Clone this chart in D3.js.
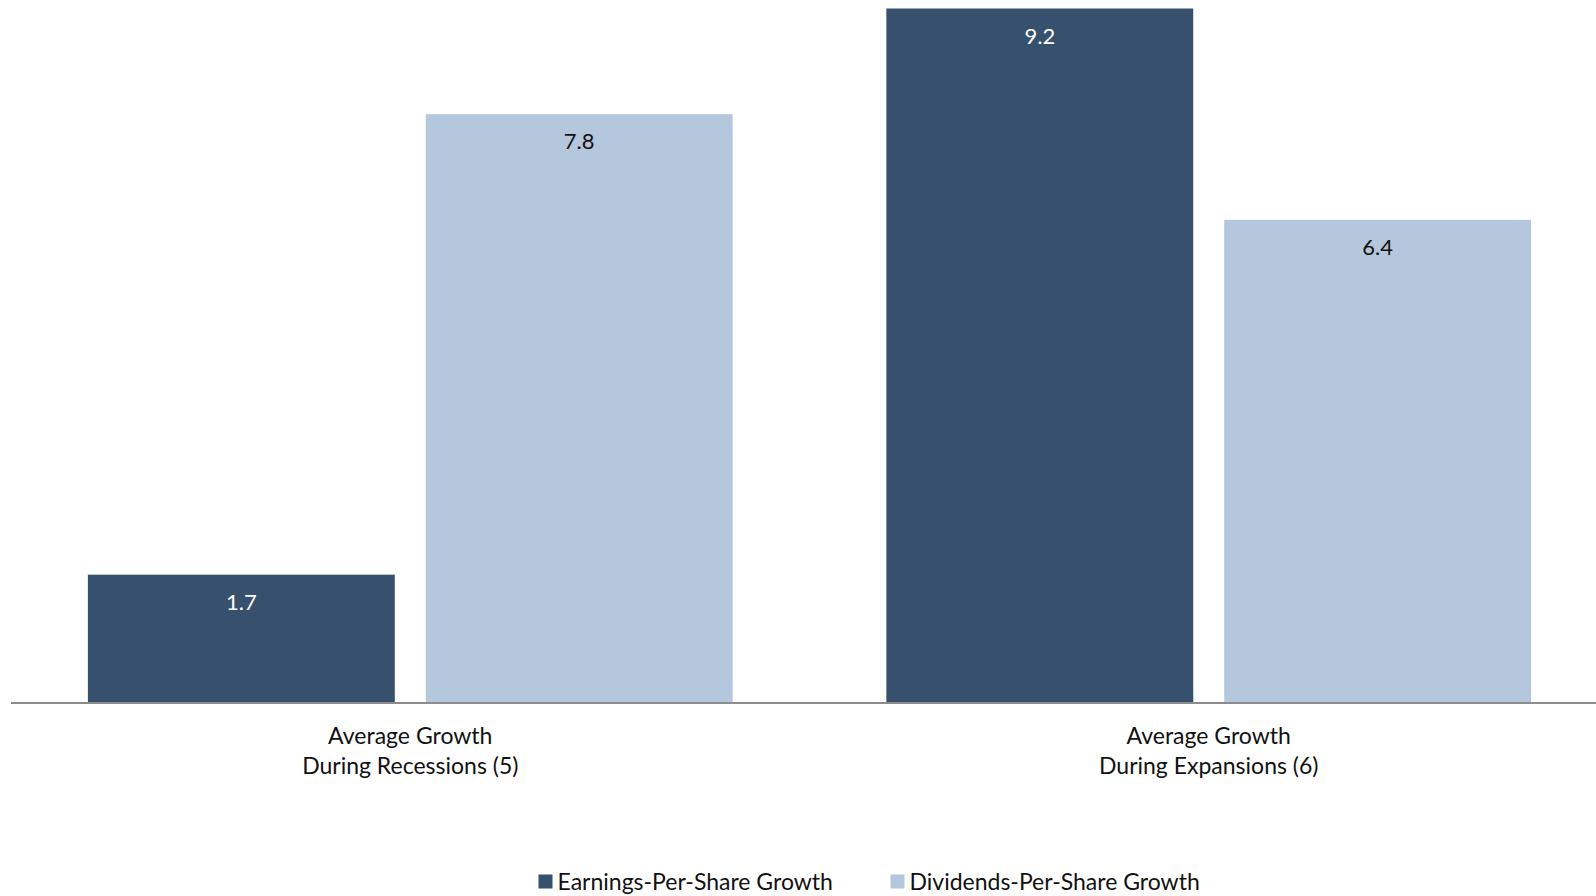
<!DOCTYPE html>
<html>
<head>
<meta charset="utf-8">
<script src="https://cdn.jsdelivr.net/npm/d3@7"></script>
<style>
  html, body { margin: 0; padding: 0; background: #ffffff; }
  svg { display: block; }
  text { font-family: "Lato", "Open Sans", sans-serif; }
</style>
</head>
<body>
<svg id="chart" width="1596" height="896"></svg>
<script>
// Categories (each label is split over two lines)
const categories = ["recessions", "expansions"];
const categoryLabels = [
  ["Average Growth", "During Recessions (5)"],
  ["Average Growth", "During Expansions (6)"]
];

// Series
const seriesNames = ["Earnings-Per-Share Growth", "Dividends-Per-Share Growth"];
const epsGrowth = [1.7, 9.2];
const dpsGrowth = [7.8, 6.4];
const seriesColors = ["#36506e", "#b4c7dc"];
const labelColors = ["#ffffff", "#111111"];

const W = 1596, H = 896;
const baseY = 703;
const svg = d3.select("#chart");

const rows = categories.map((c, i) => ({
  key: c,
  values: [
    { series: 0, value: epsGrowth[i] },
    { series: 1, value: dpsGrowth[i] }
  ]
}));

const x0 = d3.scaleBand()
  .domain(categories)
  .range([11, 1608])
  .paddingInner(0.1925)
  .paddingOuter(0.0963);

const x1 = d3.scaleBand()
  .domain([0, 1])
  .range([0, x0.bandwidth()])
  .paddingInner(0.0917)
  .paddingOuter(0);

const y = d3.scaleLinear()
  .domain([0, 9.2])
  .range([baseY, 8.5]);

const groups = svg.append("g")
  .selectAll("g")
  .data(rows)
  .join("g")
  .attr("transform", d => `translate(${x0(d.key)},0)`);

groups.selectAll("rect")
  .data(d => d.values)
  .join("rect")
  .attr("x", d => x1(d.series))
  .attr("width", x1.bandwidth())
  .attr("y", d => y(d.value))
  .attr("height", d => baseY - y(d.value))
  .attr("fill", d => seriesColors[d.series]);

groups.selectAll("text.value")
  .data(d => d.values)
  .join("text")
  .attr("class", "value")
  .attr("x", d => x1(d.series) + x1.bandwidth() / 2)
  .attr("y", d => y(d.value) + 35)
  .attr("text-anchor", "middle")
  .attr("font-size", 22)
  .attr("fill", d => labelColors[d.series])
  .text(d => d.value.toFixed(1));

// Baseline axis
const xAxis = d3.axisBottom(x0).tickSize(0).tickFormat("");
const axisG = svg.append("g")
  .attr("transform", `translate(0,${baseY})`)
  .call(xAxis);
axisG.select(".domain").remove();
axisG.append("line")
  .attr("x1", 11).attr("x2", W)
  .attr("y1", 0).attr("y2", 0)
  .attr("stroke", "#8c8c8c")
  .attr("stroke-width", 2);

// Category labels
categories.forEach((c, i) => {
  const t = svg.append("text")
    .attr("x", x0(c) + x0.bandwidth() / 2)
    .attr("y", 744)
    .attr("text-anchor", "middle")
    .attr("font-size", 23)
    .attr("fill", "#111111");
  categoryLabels[i].forEach((line, j) => {
    t.append("tspan")
      .attr("x", x0(c) + x0.bandwidth() / 2)
      .attr("dy", j === 0 ? 0 : 30)
      .text(line);
  });
});

// Legend
const legendX = [538.5, 890.5];
const legend = svg.append("g")
  .selectAll("g")
  .data(seriesNames)
  .join("g")
  .attr("transform", (d, i) => `translate(${legendX[i]},874.5)`);
legend.append("rect")
  .attr("width", 14).attr("height", 14)
  .attr("fill", (d, i) => seriesColors[i]);
legend.append("text")
  .attr("x", 19)
  .attr("y", 15)
  .attr("font-size", 23)
  .attr("fill", "#111111")
  .text(d => d);
</script>
</body>
</html>
